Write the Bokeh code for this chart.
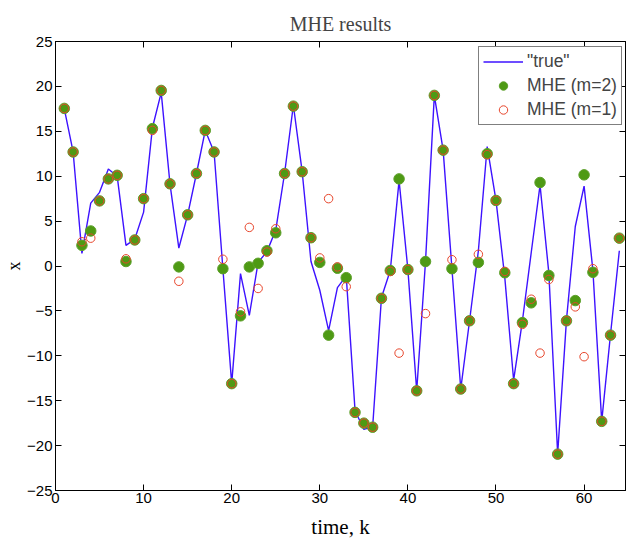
from bokeh.plotting import figure
from bokeh.models import LinearAxis, FixedTicker, Range1d, Legend, LegendItem
from bokeh.embed import file_html
from bokeh.resources import INLINE

# time index
k = list(range(1, 65))

# "true" state
x_true = [17.5, 12.7, 1.4, 7.0, 8.2, 10.8, 10.0, 2.3, 3.0, 6.0,
          15.4, 19.3, 9.1, 2.0, 5.7, 10.3, 15.1, 12.7, -0.3, -13.1,
          -0.85, -5.5, 0.4, 1.6, 4.0, 10.3, 17.9, 10.5, 0.5, -2.7,
          -7.2, -2.4, -1.1, -16.1, -18.2, -17.9, -3.5, -0.5, 9.5, -0.4,
          -13.9, 0.5, 19.0, 12.9, -0.3, -13.7, -6.1, 1.7, 13.3, 7.3,
          -1.3, -12.7, -6.1, 1.5, 9.0, -0.8, -20.9, -6.0, 4.4, 8.9,
          -0.5, -17.3, -7.6, 1.7]

# MHE estimate, m=2
x_mhe2 = [17.55, 12.7, 2.3, 3.9, 7.25, 9.7, 10.1, 0.5, 2.9, 7.5,
          15.3, 19.55, 9.15, -0.1, 5.7, 10.3, 15.1, 12.7, -0.3, -13.1,
          -5.55, -0.1, 0.3, 1.7, 3.7, 10.3, 17.8, 10.5, 3.15, 0.4,
          -7.7, -0.25, -1.3, -16.3, -17.5, -17.95, -3.6, -0.5, 9.7, -0.4,
          -13.9, 0.5, 19.0, 12.9, -0.3, -13.7, -6.1, 0.4, 12.5, 7.3,
          -0.75, -13.1, -6.3, -4.1, 9.3, -1.05, -20.95, -6.1, -3.85, 10.15,
          -0.7, -17.3, -7.7, 3.1]

# MHE estimate, m=1
x_mhe1 = [17.55, 12.7, 2.7, 3.1, 7.25, 9.7, 10.1, 0.8, 2.9, 7.5,
          15.1, 19.55, 9.15, -1.7, 5.7, 10.3, 15.1, 12.7, 0.75, -13.1,
          -5.1, 4.3, -2.5, 1.55, 4.15, 10.3, 17.8, 10.5, 3.15, 0.9,
          7.5, -0.1, -2.3, -16.3, -17.5, -17.95, -3.6, -0.6, -9.7, -0.4,
          -13.9, -5.3, 19.0, 12.9, 0.7, -13.7, -6.1, 1.3, 12.4, 7.3,
          -0.6, -13.1, -6.5, -3.7, -9.7, -1.5, -20.95, -6.1, -4.55, -10.1,
          -0.3, -17.3, -7.7, 3.1]

x_ticks = [0, 10, 20, 30, 40, 50, 60]
y_ticks = [-25, -20, -15, -10, -5, 0, 5, 10, 15, 20, 25]
y_tick_labels = ["\u221225", "\u221220", "\u221215", "\u221210", "\u22125",
                 "0", "5", "10", "15", "20", "25"]

p = figure(width=626, height=541, output_backend="svg", toolbar_location=None,
           x_range=Range1d(0, 64.7), y_range=Range1d(-25, 25),
           min_border_left=55, min_border_right=1, min_border_top=41,
           min_border_bottom=50, title="MHE results")

p.title.text_font = "Liberation Serif"
p.title.text_font_style = "normal"
p.title.text_font_size = "20px"
p.title.text_line_height = 1.0
p.title.align = "center"
p.title.vertical_align = "top"
p.title.standoff = 10

p.xgrid.grid_line_color = None
p.ygrid.grid_line_color = None
p.outline_line_color = "black"
p.outline_line_width = 1
p.background_fill_color = "white"
p.border_fill_color = "white"

def style_axis(ax, labels=True):
    ax.major_tick_in = 6
    ax.major_tick_out = 0
    ax.minor_tick_line_color = None
    ax.axis_line_color = "black"
    ax.axis_line_width = 1
    ax.major_tick_line_color = "black"
    ax.major_tick_line_width = 1
    if labels:
        ax.major_label_text_font = "Liberation Sans"
        ax.major_label_text_font_size = "15px"
        ax.major_label_text_color = "black"
        ax.major_label_standoff = 3
        ax.axis_label_text_font = "Liberation Serif"
        ax.axis_label_text_font_style = "normal"
        ax.axis_label_text_font_size = "21px"
        ax.axis_label_text_line_height = 1.0
        ax.axis_label_text_color = "black"
        ax.axis_label_standoff = 9
    else:
        ax.major_label_standoff = 0

xa = p.xaxis[0]
xa.ticker = FixedTicker(ticks=x_ticks)
xa.axis_label = "time, k"
style_axis(xa)
xa.major_label_standoff = 2

ya = p.yaxis[0]
ya.ticker = FixedTicker(ticks=y_ticks)
ya.major_label_overrides = {t: s for t, s in zip(y_ticks, y_tick_labels)}
ya.axis_label = "x"
style_axis(ya)
ya.axis_label_text_font_size = "18px"
ya.axis_label_standoff = 0

top = LinearAxis(ticker=FixedTicker(ticks=x_ticks))
top.major_label_overrides = {t: "" for t in x_ticks}
style_axis(top, labels=False)
p.add_layout(top, "above")

right = LinearAxis(ticker=FixedTicker(ticks=y_ticks))
right.major_label_overrides = {t: "" for t in y_ticks}
style_axis(right, labels=False)
p.add_layout(right, "right")

l_true = p.line(k, x_true, line_color="#3d12ff", line_width=1.4)
s_m2 = p.scatter(k, x_mhe2, size=10.5, fill_color="#4e9a14", line_color="#5da02a",
                 line_width=1)
s_m1 = p.scatter(k, x_mhe1, size=8.5, fill_color=None, line_color="#e8462c",
                 line_width=1)

legend = Legend(items=[LegendItem(label='"true"', renderers=[l_true]),
                       LegendItem(label="MHE (m=2)", renderers=[s_m2]),
                       LegendItem(label="MHE (m=1)", renderers=[s_m1])],
                location=(423, 365), margin=0, padding=4, spacing=3,
                glyph_width=40, glyph_height=21, label_height=21,
                label_standoff=4, label_text_font="Liberation Sans",
                label_text_font_size="17.5px", border_line_color="black",
                border_line_width=1.5, background_fill_alpha=1)
p.add_layout(legend)

open("out.html", "w").write(file_html(p, INLINE))
